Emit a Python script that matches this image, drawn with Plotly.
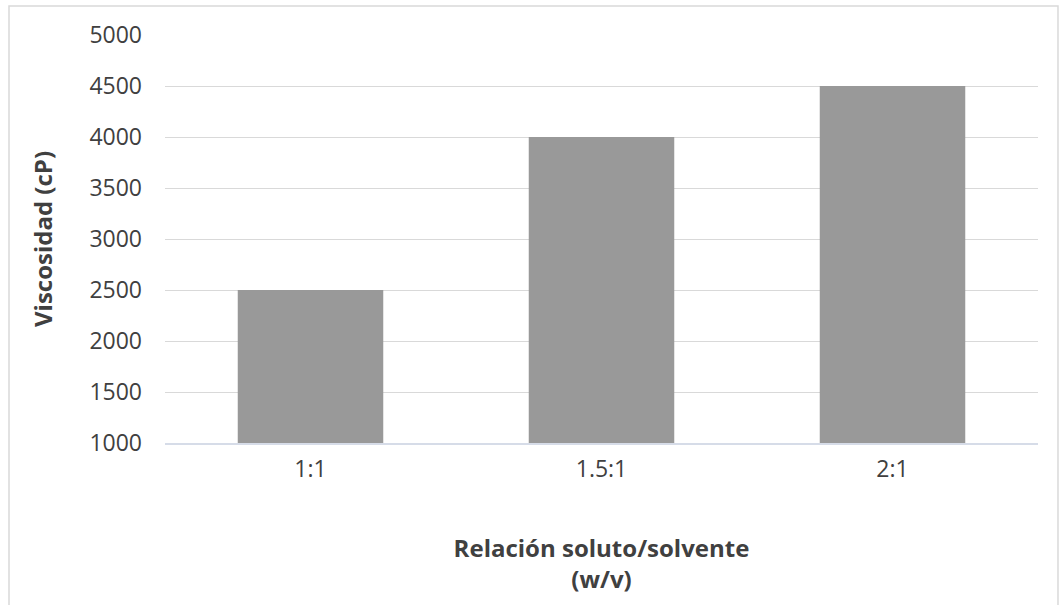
import plotly.graph_objects as go

categories = ["1:1", "1.5:1", "2:1"]
viscosity = [2500, 4000, 4500]
y_ticks = [1000, 1500, 2000, 2500, 3000, 3500, 4000, 4500, 5000]

FONT = "Open Sans"
TXT = "#404040"

fig = go.Figure()
fig.add_trace(go.Bar(
    x=categories, y=viscosity,
    marker=dict(color="#999999", line=dict(width=0)),
    hoverinfo="skip",
))

fig.update_layout(
    width=1059, height=605,
    margin=dict(l=165, r=21, t=35, b=162),
    paper_bgcolor="white", plot_bgcolor="white",
    bargap=0.5, showlegend=False,
    font=dict(family=FONT, color=TXT, size=22),
    shapes=[dict(type="rect", xref="paper", yref="paper",
                 x0=-0.1787, x1=1.0229, y0=-0.45, y1=1.0711,
                 line=dict(color="#d9d9d9", width=1.5), layer="below")],
)
fig.update_yaxes(
    range=[1000, 5000], tickvals=y_ticks,
    showgrid=True, gridcolor="#d9d9d9", gridwidth=1.3,
    zeroline=False, showline=False,
    ticklabelstandoff=22,
    tickfont=dict(size=23, color=TXT),
    title=dict(text="<b>Viscosidad (cP)</b>", font=dict(size=24, color=TXT), standoff=29),
)
fig.update_xaxes(
    showline=True, linecolor="#d6dce8", linewidth=1.5,
    showgrid=False, ticklabelstandoff=5,
    tickfont=dict(size=23, color=TXT),
    title=dict(text="<b>Relación soluto/solvente<br>(w/v)</b>", font=dict(size=24, color=TXT), standoff=57),
)

fig.write_html("out.html", config={"displayModeBar": False},
               post_script="document.body.style.margin='0';")
